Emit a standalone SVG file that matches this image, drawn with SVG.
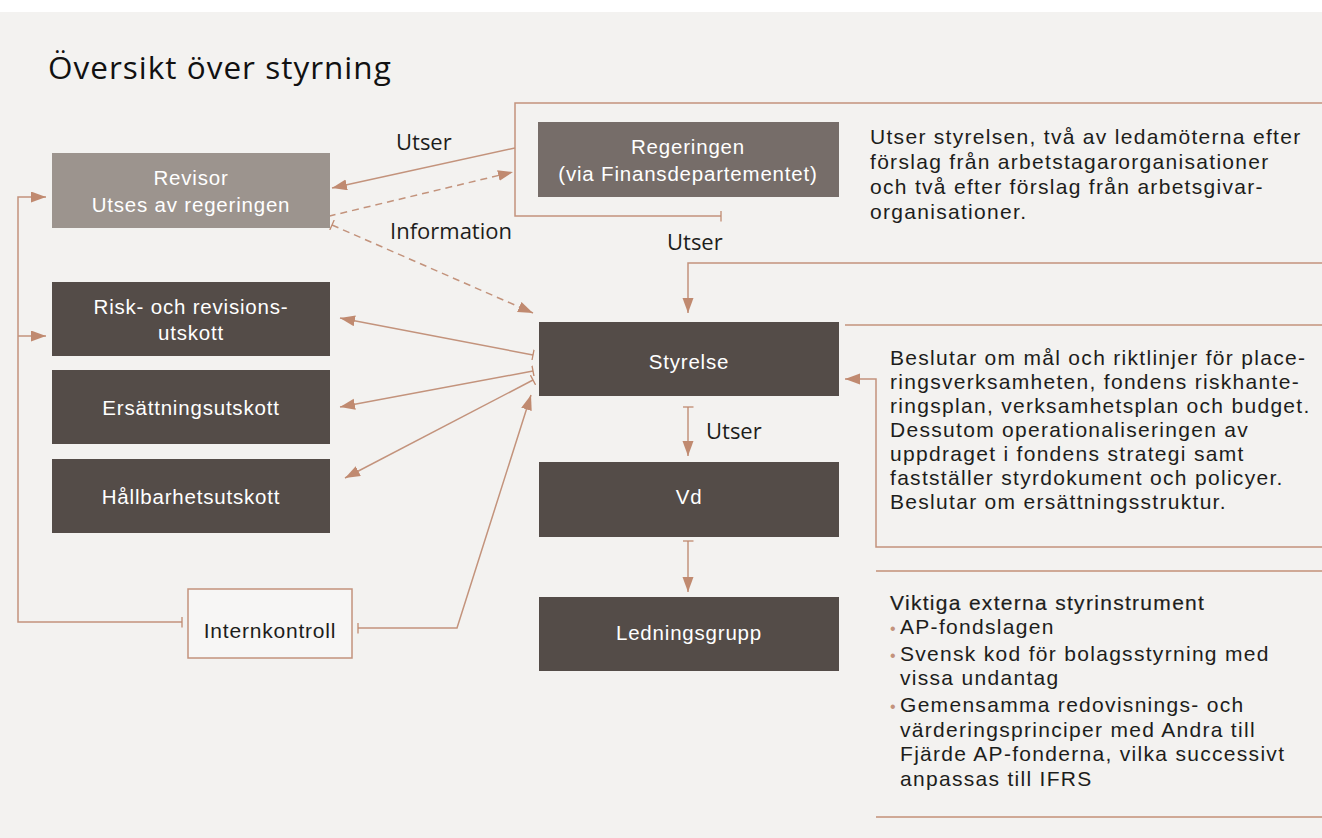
<svg xmlns="http://www.w3.org/2000/svg" width="1322" height="838" viewBox="0 0 1322 838">
<defs>
<style>
.bg{fill:#f3f2f0}
.dark{fill:#544c48}
.lt{fill:#fff;font-family:"Liberation Sans",Arial,sans-serif;font-size:20.5px;letter-spacing:0.8px;text-anchor:middle}
.tx{fill:#1d1d1b;font-family:"Liberation Sans",Arial,sans-serif;font-size:21px;letter-spacing:1.3px}
.lb{fill:#1d1d1b;font-family:"Open Sans","DejaVu Sans",sans-serif;font-size:22px}
.c{fill:none;stroke:#c3937c;stroke-width:1.5}
.d{stroke-dasharray:7 5}
.sep{fill:none;stroke:#cfa996;stroke-width:2.2}
.bul{fill:#c3937c;font-family:"Liberation Sans",sans-serif;font-size:16px}
</style>
<marker id="ah" markerWidth="16" markerHeight="12" refX="15" refY="5.5" orient="auto" markerUnits="userSpaceOnUse"><path d="M0,0 L15,5.5 L0,11 z" fill="#c08a70"/></marker>
<marker id="tk" markerWidth="4" markerHeight="11" refX="2" refY="5.5" orient="auto" markerUnits="userSpaceOnUse"><path d="M2,0 V11" stroke="#c08a70" stroke-width="1.3"/></marker>
</defs>
<rect width="1322" height="838" fill="#ffffff"/>
<rect class="bg" x="0" y="12" width="1322" height="826"/>
<text x="48" y="79" fill="#111" font-family="'Open Sans','DejaVu Sans',sans-serif" font-size="31.5" font-weight="500" letter-spacing="1">Översikt över styrning</text>

<g id="connectors">
<path class="c" d="M1322,103 H515 V216 H721" marker-end="url(#tk)"/>
<path class="c" d="M515,148 L332,188" marker-end="url(#ah)"/>
<path class="c d" d="M317,219 L513,172" marker-start="url(#tk)" marker-end="url(#ah)"/>
<path class="c d" d="M332,225 L533,313" marker-start="url(#tk)" marker-end="url(#ah)"/>
<path class="c" d="M182,622 H18 V197 H46" marker-start="url(#tk)" marker-end="url(#ah)"/>
<path class="c" d="M18,336 H46" marker-end="url(#ah)"/>
<path class="c" d="M358,628 H457 L531,395" marker-start="url(#tk)" marker-end="url(#ah)"/>
<path class="c" d="M533,355 L340,318" marker-start="url(#tk)" marker-end="url(#ah)"/>
<path class="c" d="M533,371 L340,407" marker-start="url(#tk)" marker-end="url(#ah)"/>
<path class="c" d="M533,380 L345,478" marker-start="url(#tk)" marker-end="url(#ah)"/>
<path class="c" d="M1322,263 H688 V313" marker-end="url(#ah)"/>
<path class="c" d="M845,325 H1322"/>
<path class="c" d="M1322,547 H876 V379 H845" marker-end="url(#ah)"/>
<path class="c" d="M688,407 V456" marker-start="url(#tk)" marker-end="url(#ah)"/>
<path class="c" d="M688,541 V592" marker-start="url(#tk)" marker-end="url(#ah)"/>
<path class="sep" d="M876,571 H1322"/>
<path class="sep" d="M876,817 H1322"/>
<text class="lb" x="396" y="150">Utser</text>
<text class="lb" x="390" y="239">Information</text>
<text class="lb" x="667" y="250">Utser</text>
<text class="lb" x="706" y="439">Utser</text>
</g>

<g id="revisor">
<rect x="52" y="153" width="278" height="75" fill="#9c948e"/>
<text class="lt" x="191" y="185">Revisor</text>
<text class="lt" x="191" y="212">Utses av regeringen</text>
</g>
<g id="risk">
<rect class="dark" x="52" y="282" width="278" height="74"/>
<text class="lt" x="191" y="314">Risk- och revisions-</text>
<text class="lt" x="191" y="340">utskott</text>
</g>
<g id="ersattning">
<rect class="dark" x="52" y="370" width="278" height="74"/>
<text class="lt" x="191" y="415">Ersättningsutskott</text>
</g>
<g id="hallbarhet">
<rect class="dark" x="52" y="459" width="278" height="74"/>
<text class="lt" x="191" y="504">Hållbarhetsutskott</text>
</g>
<g id="internkontroll">
<rect x="188" y="589" width="164" height="69" fill="#ffffff" fill-opacity="0.35" stroke="#c3937c" stroke-width="1.5"/>
<text class="lt" x="270" y="638" style="fill:#1d1d1b;font-size:21px">Internkontroll</text>
</g>
<g id="regeringen">
<rect x="538" y="122" width="301" height="75" fill="#766d69"/>
<text class="lt" x="688" y="154">Regeringen</text>
<text class="lt" x="688" y="181">(via Finansdepartementet)</text>
</g>
<g id="styrelse">
<rect class="dark" x="539" y="322" width="300" height="74"/>
<text class="lt" x="689" y="369">Styrelse</text>
</g>
<g id="vd">
<rect class="dark" x="539" y="462" width="300" height="75"/>
<text class="lt" x="689" y="504">Vd</text>
</g>
<g id="ledningsgrupp">
<rect class="dark" x="539" y="597" width="300" height="74"/>
<text class="lt" x="689" y="640">Ledningsgrupp</text>
</g>

<g id="text-regeringen">
<text class="tx" x="870" y="144">Utser styrelsen, två av ledamöterna efter</text>
<text class="tx" x="870" y="169">förslag från arbetstagarorganisationer</text>
<text class="tx" x="870" y="194">och två efter förslag från arbetsgivar-</text>
<text class="tx" x="870" y="219">organisationer.</text>
</g>
<g id="text-styrelse">
<text class="tx" x="890" y="365">Beslutar om mål och riktlinjer för place-</text>
<text class="tx" x="890" y="389">ringsverksamheten, fondens riskhante-</text>
<text class="tx" x="890" y="413">ringsplan, verksamhetsplan och budget.</text>
<text class="tx" x="890" y="437">Dessutom operationaliseringen av</text>
<text class="tx" x="890" y="461">uppdraget i fondens strategi samt</text>
<text class="tx" x="890" y="485">fastställer styrdokument och policyer.</text>
<text class="tx" x="890" y="509">Beslutar om ersättningsstruktur.</text>
</g>
<g id="text-instrument">
<text class="tx" x="890" y="610" stroke="#1d1d1b" stroke-width="0.2">Viktiga externa styrinstrument</text>
<text class="bul" x="890" y="634">•</text>
<text class="tx" x="900" y="634">AP-fondslagen</text>
<text class="bul" x="890" y="661">•</text>
<text class="tx" x="900" y="661">Svensk kod för bolagsstyrning med</text>
<text class="tx" x="900" y="685">vissa undantag</text>
<text class="bul" x="890" y="712">•</text>
<text class="tx" x="900" y="712">Gemensamma redovisnings- och</text>
<text class="tx" x="900" y="737">värderingsprinciper med Andra till</text>
<text class="tx" x="900" y="761">Fjärde AP-fonderna, vilka successivt</text>
<text class="tx" x="900" y="786">anpassas till IFRS</text>
</g>
</svg>
